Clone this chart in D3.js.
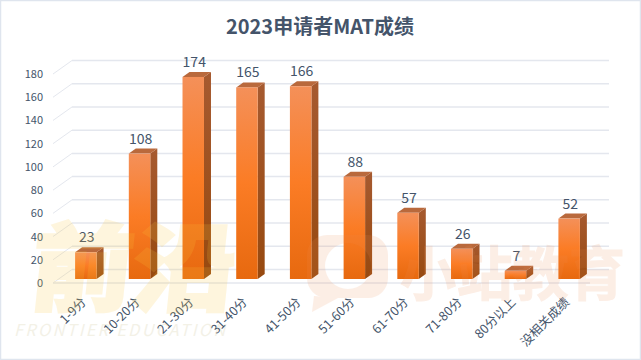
<!DOCTYPE html>
<html>
<head>
<meta charset="utf-8">
<script src="https://cdn.jsdelivr.net/npm/d3@7"></script>
<style>
  html, body { margin: 0; padding: 0; background: #fff; }
  svg { display: block; }
  text { font-family: "Noto Sans CJK SC", "Open Sans", sans-serif; }
</style>
</head>
<body>
<svg id="chart" width="641" height="360"></svg>
<script>
// chart values
const categories = ["1-9分", "10-20分", "21-30分", "31-40分", "41-50分", "51-60分", "61-70分", "71-80分", "80分以上", "没相关成绩"];
const scores = [23, 108, 174, 165, 166, 88, 57, 26, 7, 52];
const yTicks = [0, 20, 40, 60, 80, 100, 120, 140, 160, 180];

const svg = d3.select("#chart");

// frame
svg.append("rect").attr("x", 0.5).attr("y", 0.5).attr("width", 640).attr("height", 359)
  .attr("fill", "#fff").attr("stroke", "#dfe5ee").attr("stroke-width", 1.5);

// title
svg.append("text").attr("x", 320).attr("y", 34).attr("text-anchor", "middle")
  .attr("font-size", 20).attr("font-weight", 700).attr("fill", "#44546a").text("2023申请者MAT成绩");

// scales: y is the back wall, the bars stand a little in front of it
const y = d3.scaleLinear().domain([0, 180]).range([269.5, 60.5]);
const x = d3.scaleBand().domain(categories).range([59, 596]).paddingInner(0.6).paddingOuter(0.3);
const unit = y(0) - y(1);
const baseY = 279, depthX = 7, depthY = 5;

// gradient for the bar fronts
const grad = svg.append("defs").append("linearGradient").attr("id", "barFront")
  .attr("x1", 0).attr("y1", 0).attr("x2", 0).attr("y2", 1);
grad.append("stop").attr("offset", "0%").attr("stop-color", "#f49059");
grad.append("stop").attr("offset", "50%").attr("stop-color", "#fb7c25");
grad.append("stop").attr("offset", "100%").attr("stop-color", "#e7690f");
const sideGrad = svg.select("defs").append("linearGradient").attr("id", "barSide")
  .attr("x1", 0).attr("y1", 0).attr("x2", 0).attr("y2", 1);
sideGrad.append("stop").attr("offset", "0%").attr("stop-color", "#a65a30");
sideGrad.append("stop").attr("offset", "100%").attr("stop-color", "#97490f");

// gridlines, back wall + slanted side wall
const grid = svg.append("g");
grid.selectAll("line.back").data(yTicks).join("line").attr("class", "back")
  .attr("x1", 72).attr("x2", 609).attr("y1", d => y(d)).attr("y2", d => y(d))
  .attr("stroke", "#e4e7ee").attr("stroke-width", 1.5);
grid.selectAll("line.wall").data(yTicks).join("line").attr("class", "wall")
  .attr("x1", 53).attr("x2", 72).attr("y1", d => y(d) + 13.5).attr("y2", d => y(d))
  .attr("stroke", "#e4e7ee").attr("stroke-width", 1);
grid.append("line").attr("x1", 53).attr("x2", 590).attr("y1", y(0) + 13.5).attr("y2", y(0) + 13.5)
  .attr("stroke", "#e4e7ee").attr("stroke-width", 1.5);

// y tick labels
svg.append("g").selectAll("text").data(yTicks).join("text")
  .attr("x", 43).attr("y", d => y(d) + 17.5).attr("text-anchor", "end")
  .attr("font-size", 11).attr("fill", "#44546a").text(d => d);

// bars
const bars = svg.append("g").selectAll("g").data(scores).join("g");
const bx = (d, i) => x(categories[i]);
const bw = x.bandwidth();
bars.append("polygon").attr("fill", "url(#barSide)")
  .attr("points", (d, i) => {
    const r = bx(d, i) + bw, t = baseY - d * unit;
    return [[r, t], [r + depthX, t - depthY], [r + depthX, baseY - depthY], [r, baseY]].join(" ");
  });
bars.append("polygon").attr("fill", "#b9693c")
  .attr("points", (d, i) => {
    const l = bx(d, i), t = baseY - d * unit;
    return [[l, t], [l + depthX, t - depthY], [l + bw + depthX, t - depthY], [l + bw, t]].join(" ");
  });
bars.append("rect").attr("fill", "url(#barFront)")
  .attr("x", bx).attr("y", d => baseY - d * unit)
  .attr("width", bw).attr("height", d => d * unit);

// value labels
bars.append("text").attr("x", (d, i) => bx(d, i) + bw / 2 + 1).attr("y", d => baseY - d * unit - 10)
  .attr("text-anchor", "middle").attr("font-size", 14).attr("fill", "#44546a").text(d => d);

// category labels, rotated
svg.append("g").selectAll("text").data(categories).join("text")
  .attr("text-anchor", "end").attr("font-size", 12.5).attr("fill", "#44546a")
  .attr("transform", d => `translate(${x(d) + bw / 2 + 1},${303}) rotate(-45)`)
  .text(d => d);

// watermarks go over the chart, they tint the bars a little
const wmYellow = svg.append("g").attr("opacity", 0.17).attr("pointer-events", "none");
wmYellow.append("text").attr("transform", "translate(28,303) skewX(-6)")
  .attr("font-size", 96).attr("font-weight", 900)
  .attr("fill", "#fac83c").attr("stroke", "#fac83c").attr("stroke-width", 3)
  .attr("textLength", 204).attr("lengthAdjust", "spacingAndGlyphs").text("前沿");
svg.append("text").attr("x", 14).attr("y", 336).attr("font-size", 16.5).attr("font-style", "italic")
  .attr("fill", "#d8d2b0").attr("opacity", 0.3).attr("letter-spacing", 2.2).text("FRONTIER EDUCATION");

const wmOrange = svg.append("g").attr("opacity", 0.14).attr("pointer-events", "none");
// speech bubble logo, ring cut out of a rounded box
const bubble = d3.path();
bubble.moveTo(327, 235);
bubble.arcTo(388, 235, 388, 298, 20);
bubble.arcTo(388, 298, 307, 298, 20);
bubble.arcTo(307, 298, 307, 235, 20);
bubble.arcTo(307, 235, 388, 235, 20);
bubble.closePath();
bubble.moveTo(371, 266);
bubble.arc(348, 266, 23, 0, 2 * Math.PI);
bubble.closePath();
wmOrange.append("path").attr("d", bubble.toString()).attr("fill-rule", "evenodd").attr("fill", "#f08c50");
wmOrange.append("path").attr("d", "M314,296 L312,312 L338,298 Z").attr("fill", "#f08c50");
wmOrange.append("text").attr("x", 400).attr("y", 295).attr("font-size", 58).attr("font-weight", 700)
  .attr("fill", "#f08c50").attr("stroke", "#f08c50").attr("stroke-width", 1)
  .attr("textLength", 225).attr("lengthAdjust", "spacingAndGlyphs").text("小站教育");
</script>
</body>
</html>
